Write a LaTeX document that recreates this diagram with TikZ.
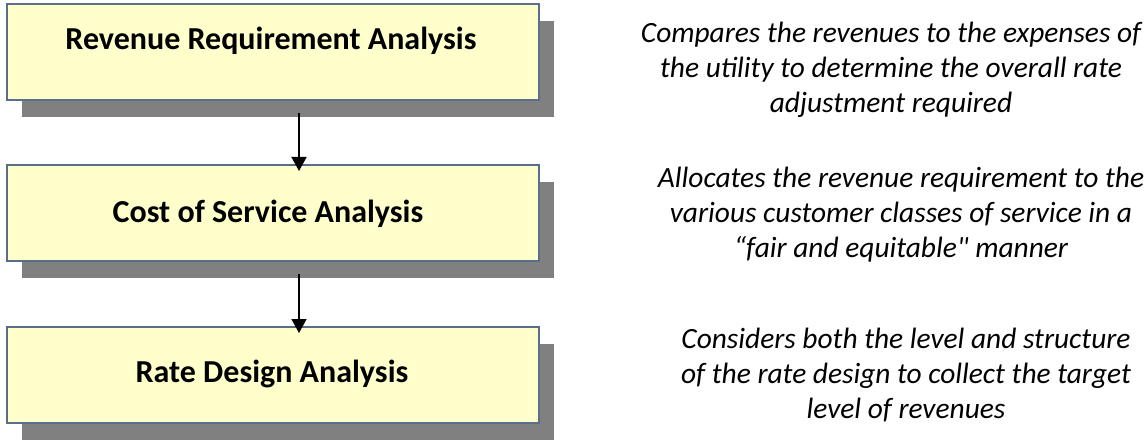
\documentclass[tikz,border=0pt]{standalone}
\usepackage{fontspec}
\setmainfont{Carlito}
\newfontfamily\descfont{Carlito}[Ligatures=TeXOff]
\usetikzlibrary{shadows,arrows.meta,calc}
\definecolor{boxfill}{RGB}{255,255,204}
\definecolor{boxline}{RGB}{90,110,140}
\definecolor{shadowgray}{RGB}{128,128,128}
\tikzset{
  stagebox/.style={draw=boxline, line width=2pt, fill=boxfill, rectangle,
    minimum width=532pt, minimum height=96pt, inner sep=0pt, anchor=north west,
    drop shadow={shadow xshift=15pt, shadow yshift=-17pt, fill=shadowgray, opacity=1}},
  stagetext/.style={font=\fontsize{32}{38}\selectfont\bfseries, anchor=base, inner sep=0pt},
  desc/.style={font=\descfont\fontsize{29.4}{35}\selectfont\itshape, align=center, anchor=north, inner sep=0pt},
  flow/.style={line width=1.5pt, -{Triangle[width=15pt,length=14pt]}}
}
\begin{document}
\begin{tikzpicture}[x=1pt,y=1pt]
\useasboundingbox (0,0) rectangle (1146,-441);
% boxes
\node[stagebox] (b1) at (6,-3) {};
\node[stagebox] (b2) at (6,-164) {};
\node[stagebox] (b3) at (6,-326) {};
% box titles
\node[stagetext] (t1) at (271,-50) {Revenue Requirement Analysis};
\node[stagetext] (t2) at (268,-222) {Cost of Service Analysis};
\node[stagetext] (t3) at (272,-382) {Rate Design Analysis};
% arrows
\draw[flow] ($(b1.south)+(26,-12)$) -- ($(b2.north)+(26,-7)$);
\draw[flow] ($(b2.south)+(26,-12)$) -- ($(b3.north)+(26,-7)$);
% descriptions
\node[desc] (d1) at (891,-20) {\rule{0pt}{22pt}Compares the revenues to the expenses of\\the utility to determine the overall rate\\adjustment required};
\node[desc] (d2) at (901,-165) {\rule{0pt}{22pt}Allocates the revenue requirement to the\\various customer classes of service in a\\“fair and equitable" manner};
\node[desc] (d3) at (906,-326) {\rule{0pt}{22pt}Considers both the level and structure\\of the rate design to collect the target\\level of revenues};
\end{tikzpicture}
\end{document}
